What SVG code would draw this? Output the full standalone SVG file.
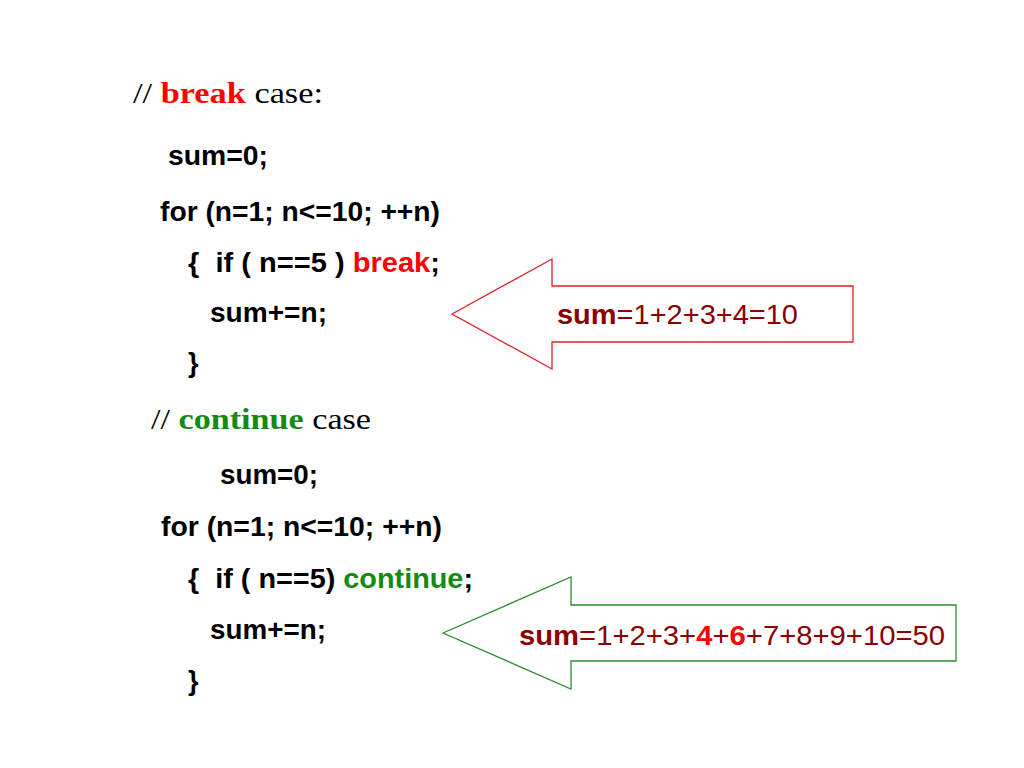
<svg xmlns="http://www.w3.org/2000/svg" width="1024" height="768" viewBox="0 0 1024 768">
<style>
.serif{font-family:"Liberation Serif","Times New Roman",serif;font-size:29px;fill:#000}
.code{font-family:"Liberation Sans",Arial,sans-serif;font-size:27px;font-weight:bold;fill:#000}
.res{font-family:"Liberation Sans",Arial,sans-serif;font-size:27px;fill:#8b0000}
.b{font-weight:bold}
.red{fill:#ff0000}
.green{fill:#138a13}
.arrowR{fill:#fff;stroke:#e0202a;stroke-width:1.3}
.arrowG{fill:#fff;stroke:#2e8b2e;stroke-width:1.3}
</style>
<rect width="1024" height="768" fill="#fff"/>
<g id="break-code">
<text class="serif" x="133" y="103" textLength="190" lengthAdjust="spacingAndGlyphs">// <tspan class="b red">break</tspan> case:</text>
<text class="code" x="168" y="165" textLength="100" lengthAdjust="spacingAndGlyphs">sum=0;</text>
<text class="code" x="160" y="221" textLength="280" lengthAdjust="spacingAndGlyphs">for (n=1; n&lt;=10; ++n)</text>
<text class="code" x="188" y="272" xml:space="preserve" textLength="252" lengthAdjust="spacingAndGlyphs">{  if ( n==5 ) <tspan class="red">break</tspan>;</text>
<text class="code" x="210" y="322" textLength="117" lengthAdjust="spacingAndGlyphs">sum+=n;</text>
<text class="code" x="188" y="372">}</text>
</g>
<g id="continue-code">
<text class="serif" x="151" y="429" textLength="220" lengthAdjust="spacingAndGlyphs">// <tspan class="b green">continue</tspan> case</text>
<text class="code" x="220" y="484" textLength="98" lengthAdjust="spacingAndGlyphs">sum=0;</text>
<text class="code" x="161" y="536" textLength="281" lengthAdjust="spacingAndGlyphs">for (n=1; n&lt;=10; ++n)</text>
<text class="code" x="188" y="588" xml:space="preserve" textLength="285" lengthAdjust="spacingAndGlyphs">{  if ( n==5) <tspan class="green">continue</tspan>;</text>
<text class="code" x="210" y="639" textLength="116" lengthAdjust="spacingAndGlyphs">sum+=n;</text>
<text class="code" x="188" y="690">}</text>
</g>
<g id="connectors">
<g id="break-result">
<polygon class="arrowR" points="452,314 552,259 552,286 853,286 853,342 552,342 552,369"/>
<text class="res" x="557" y="324" textLength="241" lengthAdjust="spacingAndGlyphs"><tspan class="b">sum</tspan>=1+2+3+4=10</text>
</g>
<g id="continue-result">
<polygon class="arrowG" points="443,633 571,577 571,605 956,605 956,661 571,661 571,689"/>
<text class="res" x="519" y="645" textLength="426" lengthAdjust="spacingAndGlyphs"><tspan class="b">sum</tspan>=1+2+3+<tspan class="b red">4</tspan>+<tspan class="b red">6</tspan>+7+8+9+10=50</text>
</g>
</g>
</svg>
